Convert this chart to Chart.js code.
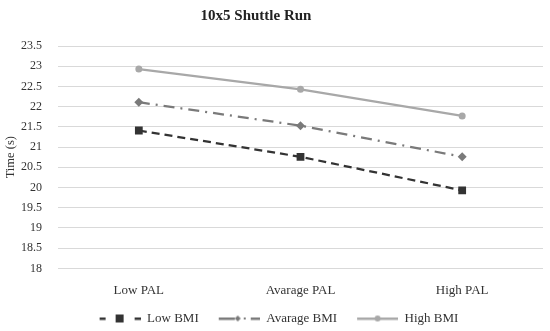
<!DOCTYPE html>
<html>
<head>
<meta charset="utf-8">
<script src="https://cdn.jsdelivr.net/npm/chart.js@4"></script>
<style>
  body { margin: 0; background: #fff; }
  #wrap { width: 550px; height: 331px; }
</style>
</head>
<body>
<div id="wrap"><canvas id="myChart" width="550" height="331"></canvas></div>
<script>
// datos
var categories = ["Low PAL", "Avarage PAL", "High PAL"];
var seriesNames = ["Low BMI", "Avarage BMI", "High BMI"];
var lowBMI = [21.41, 20.76, 19.93];
var avgBMI = [22.11, 21.53, 20.76];
var highBMI = [22.93, 22.43, 21.77];
var yMin = 18, yMax = 23.5, yStep = 0.5;

var serif = "'Liberation Serif', 'DejaVu Serif', serif";

var colors = ["#333333", "#7a7a7a", "#a8a8a8"];
var dashes = [[8, 5], [11, 6, 2, 6], []];
var markers = ["rect", "rectRot", "circle"];
var radii = [5.5, 4.5, 3.5];

// icono de leyenda: linea + marcador (con margen en blanco a la izquierda)
var iconGap = 12;
function legendIcon(i) {
  var c = document.createElement("canvas");
  c.width = 41 + iconGap;
  c.height = 12;
  var ctx = c.getContext("2d");
  ctx.translate(iconGap, 0);
  ctx.fillStyle = colors[i];
  if (i === 0) {
    ctx.fillRect(0, 5, 6, 2.5);
    ctx.fillRect(35, 5, 6, 2.5);
    ctx.fillRect(16, 2, 8, 8);
  } else if (i === 1) {
    ctx.fillRect(0, 5, 16, 2.5);
    ctx.fillRect(25, 5, 2, 2);
    ctx.fillRect(32, 5, 9, 2.5);
    ctx.beginPath();
    ctx.moveTo(19, 3); ctx.lineTo(22, 6); ctx.lineTo(19, 9); ctx.lineTo(16, 6);
    ctx.closePath();
    ctx.fill();
  } else {
    ctx.fillRect(0, 5, 41, 2.5);
    ctx.beginPath();
    ctx.arc(20.5, 6, 3, 0, Math.PI * 2);
    ctx.fill();
  }
  return c;
}

var values = [lowBMI, avgBMI, highBMI];
var datasets = [];
for (var i = 0; i < 3; i++) {
  datasets.push({
    label: seriesNames[i],
    data: values[i],
    borderColor: colors[i],
    backgroundColor: colors[i],
    borderWidth: 2.25,
    borderDash: dashes[i],
    pointStyle: markers[i],
    pointRadius: radii[i],
    pointBorderWidth: 0,
    tension: 0
  });
}

// el titulo del original esta un poco a la izquierda del centro
var shiftTitle = {
  id: "shiftTitle",
  afterLayout: function (chart) {
    chart.titleBlock.right -= 34;
  }
};

new Chart(document.getElementById("myChart").getContext("2d"), {
  type: "line",
  data: { labels: categories, datasets: datasets },
  plugins: [shiftTitle],
  options: {
    responsive: false,
    animation: false,
    layout: { padding: { left: 3, right: 7, top: 0, bottom: -4 } },
    plugins: {
      title: {
        display: true,
        text: "10x5 Shuttle Run",
        color: "#222",
        font: { family: serif, size: 15, weight: "bold" },
        padding: { top: 7, bottom: 21 }
      },
      legend: {
        position: "bottom",
        labels: {
          color: "#333",
          font: { family: serif, size: 13 },
          usePointStyle: true,
          pointStyleWidth: 41 + iconGap,
          padding: 8,
          generateLabels: function (chart) {
            return seriesNames.map(function (n, k) {
              return {
                text: n,
                pointStyle: legendIcon(k),
                fillStyle: colors[k],
                strokeStyle: colors[k],
                lineWidth: 0,
                datasetIndex: k,
                fontColor: "#333"
              };
            });
          }
        }
      },
      tooltip: { enabled: false }
    },
    scales: {
      x: {
        offset: true,
        grid: { display: false },
        border: { display: false },
        ticks: { color: "#333", font: { family: serif, size: 13 }, padding: 6 }
      },
      y: {
        min: yMin,
        max: yMax,
        border: { display: false },
        grid: { color: "#d9d9d9", lineWidth: 1, drawTicks: false },
        afterFit: function (scale) { scale.width = 55; },
        ticks: {
          stepSize: yStep,
          color: "#333",
          font: { family: serif, size: 12 },
          padding: 16,
          callback: function (v) { return String(v); }
        },
        title: {
          display: true,
          text: "Time (s)",
          color: "#333",
          font: { family: serif, size: 12.5 },
          padding: 0
        }
      }
    }
  }
});
</script>
</body>
</html>
